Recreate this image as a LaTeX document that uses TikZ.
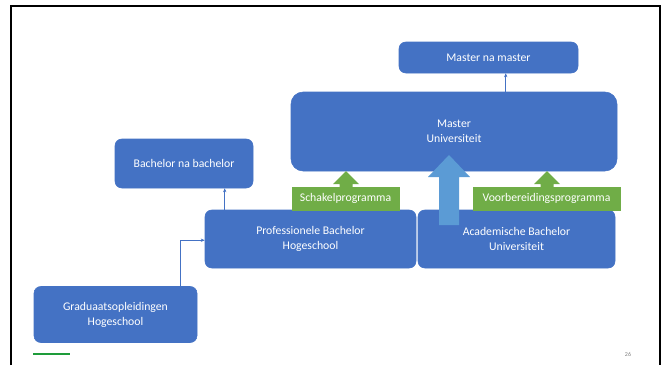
\documentclass[tikz,border=0pt]{standalone}
\usepackage{fontspec}
\setmainfont{Carlito}
\usetikzlibrary{calc,arrows.meta}
\definecolor{boxblue}{HTML}{4472C4}
\definecolor{lightblue}{HTML}{5B9BD5}
\definecolor{pgreen}{HTML}{70AD47}
\definecolor{lgreen}{HTML}{1E9C3A}
\tikzset{
  box/.style={fill=boxblue, draw=boxblue, rounded corners=5pt, text=white, align=center,
    font=\fontsize{8.8}{11.25}\selectfont, inner sep=0pt},
  gbox/.style={fill=pgreen, draw=pgreen, text=white, align=center,
    font=\fontsize{8.8}{11.25}\selectfont, inner sep=0pt},
  conn/.style={draw=boxblue, line width=0.7pt, -{Stealth[length=3pt,width=2.5pt]}},
}
\begin{document}
\begin{tikzpicture}[x=0.75pt,y=-0.75pt]
\useasboundingbox (0,0) rectangle (665,365);
% slide frame
\draw[line width=1.5pt] (11,365) -- (11,6) -- (660,6) -- (660,365);
% boxes
\node[box, minimum width=134.25pt, minimum height=23.25pt] (mnm) at (488.5,57.5) {Master na master};
\node[box, rounded corners=9pt, minimum width=244.5pt, minimum height=59.25pt] (mu) at (454,131.5) {Master\\Universiteit};
\node[box, minimum width=103.5pt, minimum height=36.75pt] (bnb) at (184,163.5) {Bachelor na bachelor};
\node[box, minimum width=158.25pt, minimum height=43.5pt] (pb) at (310.5,239) {Professionele Bachelor\\Hogeschool};
\node[box, minimum width=147.75pt, minimum height=43.5pt] (ab) at (516.5,239) {Academische Bachelor\\Universiteit};
\node[box, minimum width=122.25pt, minimum height=42pt] (gr) at (115.5,314.5) {Graduaatsopleidingen\\Hogeschool};
% green arrows
\fill[pgreen] (346,171) -- (359,184) -- (352.5,184) -- (352.5,188) -- (339.5,188) -- (339.5,184) -- (333,184) -- cycle;
\fill[pgreen] (547,171) -- (560,184) -- (553.5,184) -- (553.5,188) -- (540.5,188) -- (540.5,184) -- (534,184) -- cycle;
\node[gbox, minimum width=80.25pt, minimum height=17.25pt] (sp) at (345.5,198.5) {Schakelprogramma};
\node[gbox, minimum width=110.25pt, minimum height=17.25pt] (vp) at (546.5,198.5) {Voorbereidingsprogramma};
% big blue arrow
\fill[lightblue] (449,155) -- (470,177) -- (459,177) -- (459,225) -- (439,225) -- (439,177) -- (428,177) -- cycle;
% connectors
\coordinate (c1s) at ($(pb.north west)+(20,0)$);
\coordinate (c1e) at (c1s |- bnb.south);
\draw[conn] (c1s) -- (c1e);
\coordinate (c2s) at ($(mu.north west)+(215,0)$);
\coordinate (c2e) at (c2s |- mnm.south);
\draw[conn] (c2s) -- (c2e);
\coordinate (c3s) at ($(gr.north west)+(147,0)$);
\coordinate (bend) at ($(gr.north west)+(147,-46)$);
\coordinate (c3e) at (bend -| pb.west);
\draw[conn] (c3s) -- (bend) -- (c3e);
% footer
\draw[lgreen, line width=1.5pt] (33,354) -- (70,354);
\node[text=gray, font=\fontsize{4.5}{5}\selectfont, inner sep=0pt] (pn) at (628,354) {26};
\end{tikzpicture}
\end{document}
